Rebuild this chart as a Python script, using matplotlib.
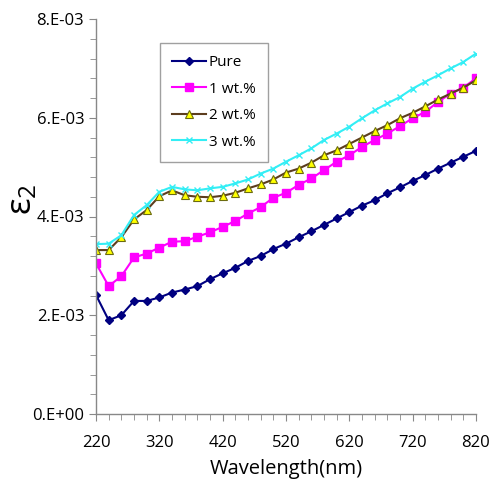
import numpy as np
import matplotlib
matplotlib.use('Agg')
import matplotlib.pyplot as plt
from matplotlib.ticker import MultipleLocator, FixedLocator, FixedFormatter

plt.rcParams['font.family'] = ['Open Sans', 'DejaVu Sans']
plt.rcParams['mathtext.default'] = 'regular'

# wavelength (nm), one point every 20 nm
wavelength = list(range(220, 821, 20))

pure = [2.41, 1.90, 2.00, 2.29, 2.29, 2.36, 2.46, 2.52, 2.59, 2.73,
        2.85, 2.96, 3.10, 3.20, 3.34, 3.45, 3.58, 3.70, 3.83, 3.96,
        4.09, 4.22, 4.33, 4.47, 4.59, 4.72, 4.84, 4.97, 5.09, 5.21, 5.33]
wt1 = [3.05, 2.59, 2.79, 3.17, 3.25, 3.37, 3.49, 3.50, 3.59, 3.68,
       3.79, 3.91, 4.06, 4.19, 4.38, 4.48, 4.64, 4.77, 4.94, 5.11,
       5.24, 5.41, 5.55, 5.68, 5.83, 5.99, 6.12, 6.32, 6.49, 6.61, 6.80]
wt2 = [3.32, 3.32, 3.58, 3.94, 4.13, 4.41, 4.53, 4.43, 4.40, 4.39,
       4.42, 4.48, 4.57, 4.65, 4.75, 4.89, 4.97, 5.09, 5.24, 5.34,
       5.47, 5.60, 5.73, 5.85, 5.99, 6.10, 6.23, 6.37, 6.49, 6.61, 6.76]
wt3 = [3.44, 3.45, 3.62, 4.03, 4.23, 4.50, 4.60, 4.55, 4.53, 4.57,
       4.60, 4.67, 4.75, 4.87, 4.97, 5.11, 5.24, 5.38, 5.55, 5.68,
       5.82, 5.99, 6.15, 6.29, 6.42, 6.59, 6.73, 6.86, 7.00, 7.13, 7.30]

x_ticks = [220, 320, 420, 520, 620, 720, 820]
y_ticks = [0, 2e-3, 4e-3, 6e-3, 8e-3]
y_tick_labels = ['0.E+00', '2.E-03', '4.E-03', '6.E-03', '8.E-03']

wl = np.array(wavelength)
fig = plt.figure(figsize=(4.92, 4.92), dpi=100)
ax = fig.add_axes([96 / 492, 78 / 492, 380 / 492, 395 / 492])

ax.plot(wl, np.array(pure) * 1e-3, color='#000080', lw=1.5, marker='D',
        ms=4.5, label='Pure')
ax.plot(wl, np.array(wt1) * 1e-3, color='#FF00FF', lw=1.5, marker='s',
        ms=6, label='1 wt.%')
ax.plot(wl, np.array(wt2) * 1e-3, color='#5c3d1e', lw=1.5, marker='^',
        ms=6, mfc='#FFFF00', mec='#6b6b10', mew=0.8, label='2 wt.%')
ax.plot(wl, np.array(wt3) * 1e-3, color='#33EEF5', lw=1.5, marker='x',
        ms=5, mew=1, label='3 wt.%')

ax.set_xlim(220, 820)
ax.set_ylim(0, 8e-3)
ax.xaxis.set_major_locator(FixedLocator(x_ticks))
ax.xaxis.set_minor_locator(MultipleLocator(20))
ax.yaxis.set_major_locator(FixedLocator(y_ticks))
ax.yaxis.set_major_formatter(FixedFormatter(y_tick_labels))
ax.yaxis.set_minor_locator(MultipleLocator(0.4e-3))

for s in ['top', 'right']:
    ax.spines[s].set_visible(False)
for s in ['left', 'bottom']:
    ax.spines[s].set_color('#888888')
    ax.spines[s].set_linewidth(1)

ax.tick_params(which='both', color='#888888', labelsize=12, direction='out')
ax.tick_params(which='major', length=5)
ax.tick_params(which='minor', length=4)
ax.tick_params(axis='x', pad=10)

ax.set_xlabel('Wavelength(nm)', fontsize=14.5, labelpad=6)
ax.set_ylabel(r'$ε_2$', fontsize=25)
ax.yaxis.set_label_coords(-0.15, 0.545)

leg = ax.legend(loc='upper left', bbox_to_anchor=(0.168, 0.939),
                borderaxespad=0, fancybox=False, fontsize=11,
                edgecolor='#888888', handlelength=2.2, labelspacing=0.75,
                borderpad=0.8, handletextpad=0.2)
leg.get_frame().set_linewidth(1)

fig.savefig('out.png', dpi=100)
